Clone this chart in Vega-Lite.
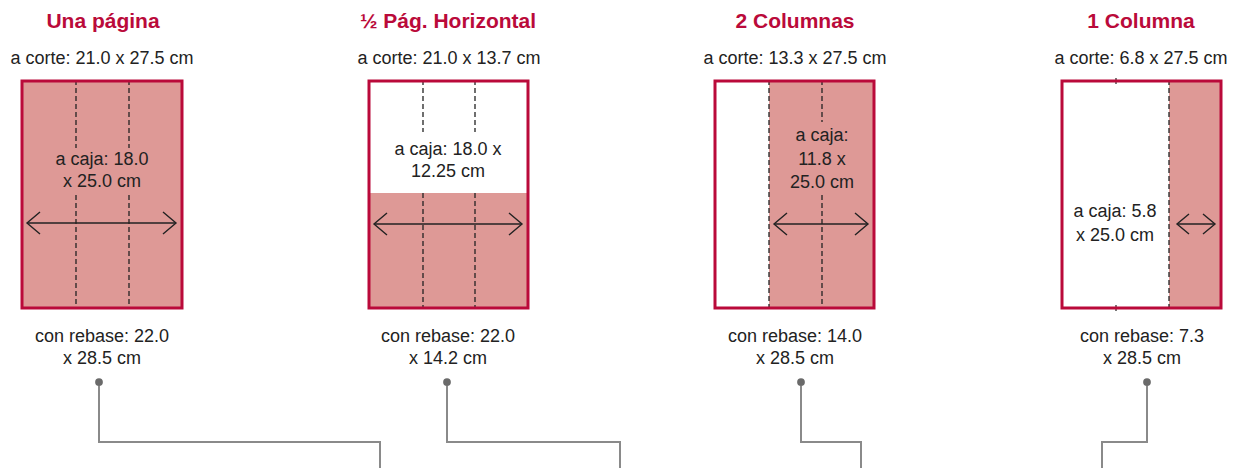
{
  "$schema": "https://vega.github.io/schema/vega-lite/v6.json",
  "width": 1233,
  "height": 468,
  "autosize": {"type": "fit", "contains": "padding"},
  "padding": 0,
  "background": "white",
  "config": {"view": {"stroke": null}},
  "datasets": {
    "pages": [
      {"panel": "Una página", "x": 22, "x2": 182, "y": 81, "y2": 308},
      {"panel": "½ Pág. Horizontal", "x": 369, "x2": 528, "y": 81, "y2": 308},
      {"panel": "2 Columnas", "x": 715, "x2": 874, "y": 81, "y2": 308},
      {"panel": "1 Columna", "x": 1062, "x2": 1221, "y": 81, "y2": 308}
    ],
    "fills": [
      {"panel": "Una página", "x": 22, "x2": 182, "y": 81, "y2": 308},
      {"panel": "½ Pág. Horizontal", "x": 369, "x2": 528, "y": 193, "y2": 308},
      {"panel": "2 Columnas", "x": 769, "x2": 874, "y": 81, "y2": 308},
      {"panel": "1 Columna", "x": 1169, "x2": 1221, "y": 81, "y2": 308}
    ],
    "dashes": [
      {"x": 76, "y": 80, "y2": 148}, {"x": 76, "y": 195, "y2": 309},
      {"x": 129, "y": 80, "y2": 148}, {"x": 129, "y": 195, "y2": 309},
      {"x": 423, "y": 80, "y2": 132}, {"x": 423, "y": 193, "y2": 309},
      {"x": 475, "y": 80, "y2": 132}, {"x": 475, "y": 193, "y2": 309},
      {"x": 769, "y": 80, "y2": 309},
      {"x": 822, "y": 80, "y2": 122}, {"x": 822, "y": 195, "y2": 309},
      {"x": 1169, "y": 80, "y2": 309}
    ],
    "ticks": [
      {"x": 1116, "y": 78, "y2": 84},
      {"x": 1116, "y": 305, "y2": 311}
    ],
    "shafts": [
      {"x": 27, "x2": 176, "y": 223},
      {"x": 374, "x2": 522, "y": 224},
      {"x": 774, "x2": 868, "y": 224},
      {"x": 1177, "x2": 1215, "y": 224}
    ],
    "heads": [
      {"id": "1L", "o": 1, "x": 40, "y": 212}, {"id": "1L", "o": 2, "x": 27, "y": 223}, {"id": "1L", "o": 3, "x": 40, "y": 234},
      {"id": "1R", "o": 1, "x": 163, "y": 212}, {"id": "1R", "o": 2, "x": 176, "y": 223}, {"id": "1R", "o": 3, "x": 163, "y": 234},
      {"id": "2L", "o": 1, "x": 387, "y": 213}, {"id": "2L", "o": 2, "x": 374, "y": 224}, {"id": "2L", "o": 3, "x": 387, "y": 235},
      {"id": "2R", "o": 1, "x": 509, "y": 213}, {"id": "2R", "o": 2, "x": 522, "y": 224}, {"id": "2R", "o": 3, "x": 509, "y": 235},
      {"id": "3L", "o": 1, "x": 787, "y": 213}, {"id": "3L", "o": 2, "x": 774, "y": 224}, {"id": "3L", "o": 3, "x": 787, "y": 235},
      {"id": "3R", "o": 1, "x": 855, "y": 213}, {"id": "3R", "o": 2, "x": 868, "y": 224}, {"id": "3R", "o": 3, "x": 855, "y": 235},
      {"id": "4L", "o": 1, "x": 1189, "y": 214}, {"id": "4L", "o": 2, "x": 1177, "y": 224}, {"id": "4L", "o": 3, "x": 1189, "y": 234},
      {"id": "4R", "o": 1, "x": 1203, "y": 214}, {"id": "4R", "o": 2, "x": 1215, "y": 224}, {"id": "4R", "o": 3, "x": 1203, "y": 234}
    ],
    "connectors": [
      {"id": "c1", "o": 1, "x": 99, "y": 382}, {"id": "c1", "o": 2, "x": 99, "y": 442}, {"id": "c1", "o": 3, "x": 380, "y": 442}, {"id": "c1", "o": 4, "x": 380, "y": 470},
      {"id": "c2", "o": 1, "x": 447, "y": 382}, {"id": "c2", "o": 2, "x": 447, "y": 442}, {"id": "c2", "o": 3, "x": 620, "y": 442}, {"id": "c2", "o": 4, "x": 620, "y": 470},
      {"id": "c3", "o": 1, "x": 801, "y": 382}, {"id": "c3", "o": 2, "x": 801, "y": 442}, {"id": "c3", "o": 3, "x": 861, "y": 442}, {"id": "c3", "o": 4, "x": 861, "y": 470},
      {"id": "c4", "o": 1, "x": 1147, "y": 382}, {"id": "c4", "o": 2, "x": 1147, "y": 442}, {"id": "c4", "o": 3, "x": 1102, "y": 442}, {"id": "c4", "o": 4, "x": 1102, "y": 470}
    ],
    "dots": [
      {"x": 99, "y": 382}, {"x": 447, "y": 382}, {"x": 801, "y": 382}, {"x": 1147, "y": 382}
    ],
    "titles": [
      {"t": "Una página", "x": 103, "y": 22},
      {"t": "½ Pág. Horizontal", "x": 448, "y": 22},
      {"t": "2 Columnas", "x": 795, "y": 22},
      {"t": "1 Columna", "x": 1141, "y": 22}
    ],
    "labels": [
      {"t": "a corte: 21.0 x 27.5 cm", "x": 102, "y": 59},
      {"t": "a corte: 21.0 x 13.7 cm", "x": 449, "y": 59},
      {"t": "a corte: 13.3 x 27.5 cm", "x": 795, "y": 59},
      {"t": "a corte: 6.8 x 27.5 cm", "x": 1141, "y": 59},
      {"t": "a caja: 18.0", "x": 102, "y": 160},
      {"t": "x 25.0 cm", "x": 102, "y": 182},
      {"t": "a caja: 18.0 x", "x": 448, "y": 150},
      {"t": "12.25 cm", "x": 448, "y": 172},
      {"t": "a caja:", "x": 822, "y": 136},
      {"t": "11.8 x", "x": 822, "y": 160},
      {"t": "25.0 cm", "x": 822, "y": 183},
      {"t": "a caja: 5.8", "x": 1115, "y": 212},
      {"t": "x 25.0 cm", "x": 1115, "y": 236},
      {"t": "con rebase: 22.0", "x": 102, "y": 337},
      {"t": "x 28.5 cm", "x": 102, "y": 359},
      {"t": "con rebase: 22.0", "x": 448, "y": 337},
      {"t": "x 14.2 cm", "x": 448, "y": 359},
      {"t": "con rebase: 14.0", "x": 795, "y": 337},
      {"t": "x 28.5 cm", "x": 795, "y": 359},
      {"t": "con rebase: 7.3", "x": 1142, "y": 337},
      {"t": "x 28.5 cm", "x": 1142, "y": 359}
    ]
  },
  "layer": [
    {
      "data": {"name": "pages"},
      "mark": {"type": "rect", "fill": "#000000", "opacity": 0.08, "xOffset": 4, "yOffset": 4},
      "encoding": {
        "x": {"field": "x", "type": "quantitative", "scale": {"domain": [0, 1233], "nice": false, "zero": false}, "axis": null},
        "x2": {"field": "x2"},
        "y": {"field": "y", "type": "quantitative", "scale": {"domain": [0, 468], "nice": false, "zero": false, "reverse": true}, "axis": null},
        "y2": {"field": "y2"}
      }
    },
    {
      "data": {"name": "pages"},
      "mark": {"type": "rect", "fill": "#000000", "opacity": 0.07, "xOffset": 2, "yOffset": 2},
      "encoding": {
        "x": {"field": "x", "type": "quantitative", "axis": null},
        "x2": {"field": "x2"},
        "y": {"field": "y", "type": "quantitative", "axis": null},
        "y2": {"field": "y2"}
      }
    },
    {
      "data": {"name": "pages"},
      "mark": {"type": "rect", "fill": "#ffffff"},
      "encoding": {
        "x": {"field": "x", "type": "quantitative", "axis": null},
        "x2": {"field": "x2"},
        "y": {"field": "y", "type": "quantitative", "axis": null},
        "y2": {"field": "y2"}
      }
    },
    {
      "data": {"name": "fills"},
      "mark": {"type": "rect", "fill": "#DE9996"},
      "encoding": {
        "x": {"field": "x", "type": "quantitative", "axis": null},
        "x2": {"field": "x2"},
        "y": {"field": "y", "type": "quantitative", "axis": null},
        "y2": {"field": "y2"}
      }
    },
    {
      "data": {"name": "dashes"},
      "mark": {"type": "rule", "color": "#222222", "strokeWidth": 1.3, "strokeDash": [5, 3]},
      "encoding": {
        "x": {"field": "x", "type": "quantitative", "axis": null},
        "y": {"field": "y", "type": "quantitative", "axis": null},
        "y2": {"field": "y2"}
      }
    },
    {
      "data": {"name": "ticks"},
      "mark": {"type": "rule", "color": "#222222", "strokeWidth": 1.2},
      "encoding": {
        "x": {"field": "x", "type": "quantitative", "axis": null},
        "y": {"field": "y", "type": "quantitative", "axis": null},
        "y2": {"field": "y2"}
      }
    },
    {
      "data": {"name": "pages"},
      "mark": {"type": "rect", "fill": null, "fillOpacity": 0, "stroke": "#BA0A3A", "strokeWidth": 3},
      "encoding": {
        "x": {"field": "x", "type": "quantitative", "axis": null},
        "x2": {"field": "x2"},
        "y": {"field": "y", "type": "quantitative", "axis": null},
        "y2": {"field": "y2"}
      }
    },
    {
      "data": {"name": "shafts"},
      "mark": {"type": "rule", "color": "#222222", "strokeWidth": 1.4},
      "encoding": {
        "x": {"field": "x", "type": "quantitative", "axis": null},
        "x2": {"field": "x2"},
        "y": {"field": "y", "type": "quantitative", "axis": null}
      }
    },
    {
      "data": {"name": "heads"},
      "mark": {"type": "line", "color": "#222222", "strokeWidth": 1.4},
      "encoding": {
        "x": {"field": "x", "type": "quantitative", "axis": null},
        "y": {"field": "y", "type": "quantitative", "axis": null},
        "detail": {"field": "id"},
        "order": {"field": "o"}
      }
    },
    {
      "data": {"name": "connectors"},
      "mark": {"type": "line", "color": "#8a8a8a", "strokeWidth": 2, "clip": true},
      "encoding": {
        "x": {"field": "x", "type": "quantitative", "axis": null},
        "y": {"field": "y", "type": "quantitative", "axis": null},
        "detail": {"field": "id"},
        "order": {"field": "o"}
      }
    },
    {
      "data": {"name": "dots"},
      "mark": {"type": "circle", "color": "#6a6a6a", "opacity": 1, "size": 60},
      "encoding": {
        "x": {"field": "x", "type": "quantitative", "axis": null},
        "y": {"field": "y", "type": "quantitative", "axis": null}
      }
    },
    {
      "data": {"name": "titles"},
      "mark": {"type": "text", "font": "Liberation Sans", "fontWeight": "bold", "fontSize": 21, "color": "#BA0A3A", "align": "center", "baseline": "middle"},
      "encoding": {
        "x": {"field": "x", "type": "quantitative", "axis": null},
        "y": {"field": "y", "type": "quantitative", "axis": null},
        "text": {"field": "t"}
      }
    },
    {
      "data": {"name": "labels"},
      "mark": {"type": "text", "font": "Liberation Sans", "fontSize": 18, "color": "#222222", "align": "center", "baseline": "middle"},
      "encoding": {
        "x": {"field": "x", "type": "quantitative", "axis": null},
        "y": {"field": "y", "type": "quantitative", "axis": null},
        "text": {"field": "t"}
      }
    }
  ]
}
